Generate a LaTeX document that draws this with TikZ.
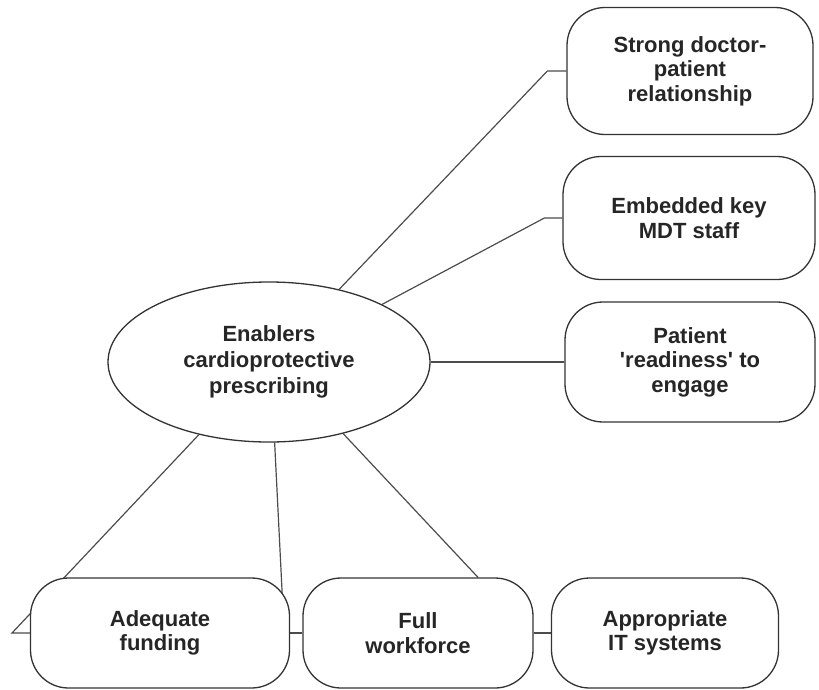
\documentclass[tikz,border=0pt]{standalone}
\usepackage{fontspec}
\setmainfont{Liberation Sans}
\usetikzlibrary{shapes.geometric,positioning,calc,backgrounds}

\begin{document}
\begin{tikzpicture}[x=1pt, y=-1pt,
    enabler/.style={draw=black!80, line width=1.3pt, fill=white, rounded corners=38pt, align=center, font=\bfseries\fontsize{22}{24.5}\selectfont, text=black!85, inner sep=0pt},
    hub/.style={draw=black!80, line width=1.3pt, fill=white, ellipse, align=center, font=\bfseries\fontsize{22}{26}\selectfont, text=black!85, minimum width=322pt, minimum height=160pt, inner sep=0pt},
    link/.style={draw=black!70, line width=1.2pt}
]
\useasboundingbox (0,0) rectangle (819,689);
\node[hub] (enab) at (269,362) {Enablers\\cardioprotective\\prescribing};
\node[enabler, minimum width=246pt, minimum height=127pt] (strong) at (690,71) {Strong doctor-\\patient\\relationship};
\node[enabler, minimum width=252pt, minimum height=123pt] (mdt) at (689,218) {Embedded key\\MDT staff};
\node[enabler, minimum width=250pt, minimum height=120pt] (ready) at (690,362) {Patient\\\textquotesingle readiness\textquotesingle\ to\\engage};
\node[enabler, minimum width=259pt, minimum height=110pt] (fund) at (160,633) {Adequate\\funding};
\node[enabler, minimum width=230pt, minimum height=110pt] (work) at (418,633) {Full\\workforce};
\node[enabler, minimum width=227pt, minimum height=110pt] (it) at (665,633) {Appropriate\\IT systems};
\coordinate (fundbend) at (12,633);

\begin{scope}[on background layer]
\draw[link] (enab.46) -- ([xshift=-19pt]strong.west) -- (strong.west);
\draw[link] (enab.27) -- ([xshift=-18pt]mdt.west) -- (mdt.west);
\draw[link] (enab.east) -- (enab.east -| ready.west);
\draw[link] (enab.-134) -- (fundbend) -- (fund.west);
\draw[link] (enab.-86) -- ($(fund.east)+(-6,0)$);
\draw[link] (enab.-44) -- ($(work.north)+(60,0)$);
\draw[link] (fund.east) -- (work.west);
\draw[link] (work.east) -- (it.west);
\end{scope}
\end{tikzpicture}
\end{document}
